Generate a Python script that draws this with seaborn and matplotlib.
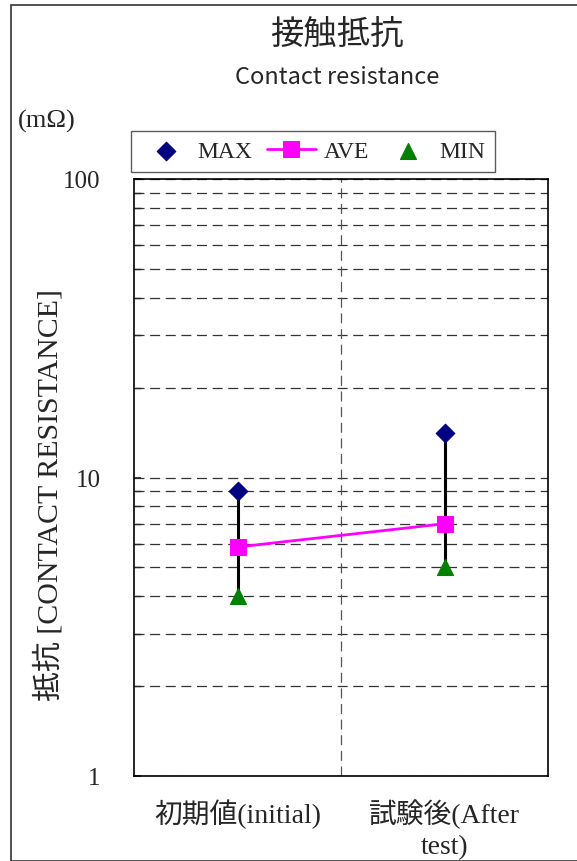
import pandas as pd
import matplotlib
matplotlib.use("Agg")
import matplotlib.pyplot as plt
from matplotlib.ticker import LogLocator, NullFormatter
from matplotlib.patches import Rectangle
import seaborn as sns

# ---------------- DATA ----------------
categories = ["初期値(initial)", "試験後(After\ntest)"]
max_vals = [9.0, 14.1]
ave_vals = [5.85, 7.0]
min_vals = [4.0, 5.0]

df = pd.DataFrame({"cat": [0, 1], "max": max_vals, "ave": ave_vals, "min": min_vals})

sns.set_theme(style="white")
serif = ["Liberation Serif", "Noto Sans CJK JP"]
plt.rcParams["font.family"] = serif

fig = plt.figure(figsize=(5.77, 8.62), dpi=100)
ax = fig.add_axes([134 / 577, 1 - 777 / 862, 414 / 577, 597 / 862])

# outer frame
fig.patches.append(Rectangle((11 / 577, 0.0), 1.0, 1 - 6 / 862, transform=fig.transFigure,
                             fill=False, edgecolor="#333333", linewidth=1.2))

# error bars min -> max
ax.vlines(df["cat"], df["min"], df["max"], color="black", linewidth=2.2, zorder=2)

sns.lineplot(data=df, x="cat", y="ave", ax=ax, color="#ff00ff", linewidth=2,
             marker="s", markersize=11, markeredgecolor="#ff00ff", label="AVE", zorder=3)
sns.scatterplot(data=df, x="cat", y="max", ax=ax, color="#000080", marker="D", s=90,
                edgecolor="#000080", label="MAX", zorder=4)
sns.scatterplot(data=df, x="cat", y="min", ax=ax, color="#008000", marker="^", s=130,
                edgecolor="#008000", label="MIN", zorder=4)

ax.set_yscale("log")
ax.set_ylim(1, 100)
ax.set_xlim(-0.5, 1.5)
ax.yaxis.set_minor_locator(LogLocator(base=10, subs=range(2, 10)))
ax.yaxis.set_minor_formatter(NullFormatter())
ax.set_yticks([1, 10, 100])
ax.set_yticklabels(["1", "10", "100"], fontsize=18)
ax.tick_params(axis="y", which="both", direction="in", length=5, left=True, pad=24)
ax.grid(True, axis="y", which="both", linestyle=(0, (8, 4.5)), color="#333333", linewidth=0.9)
ax.axvline(0.5, linestyle=(0, (8, 4.5)), color="#555555", linewidth=0.9, zorder=1)

ax.set_xticks([0, 1])
ax.set_xticklabels(categories, fontsize=20, family=serif, linespacing=1.35)
ax.tick_params(axis="x", length=0, pad=16)
ax.set_xlabel("")
ax.set_ylabel("抵抗 [CONTACT RESISTANCE]", fontsize=21.5, family=serif)
ax.yaxis.set_label_coords(-0.171, 0.472)

for s in ax.spines.values():
    s.set_color("black")
    s.set_linewidth(1.2)

# legend order MAX, AVE, MIN
h, l = ax.get_legend_handles_labels()
order = [l.index("MAX"), l.index("AVE"), l.index("MIN")]
leg = ax.legend([h[i] for i in order], [l[i] for i in order], ncol=3, loc="lower left",
                bbox_to_anchor=(-3 / 414, 1 + 7 / 597), prop={"family": serif, "size": 17},
                frameon=True, fancybox=False, edgecolor="#333333", handlelength=2.1,
                columnspacing=0.6, handletextpad=0.3, borderpad=0.42, borderaxespad=0)
leg.get_frame().set_linewidth(1.0)

fig.text(337 / 577, 1 - 35 / 862, "接触抵抗", ha="center", va="center", fontsize=24, family=serif)
fig.text(337 / 577, 1 - 77 / 862, "Contact resistance", ha="center", va="center", fontsize=17,
         family=["Noto Sans CJK JP", "DejaVu Sans"])
fig.text(18 / 577, 1 - 121 / 862, "(mΩ)", ha="left", va="center", fontsize=19, family=serif)

fig.savefig("out.png", dpi=100, facecolor="white")
